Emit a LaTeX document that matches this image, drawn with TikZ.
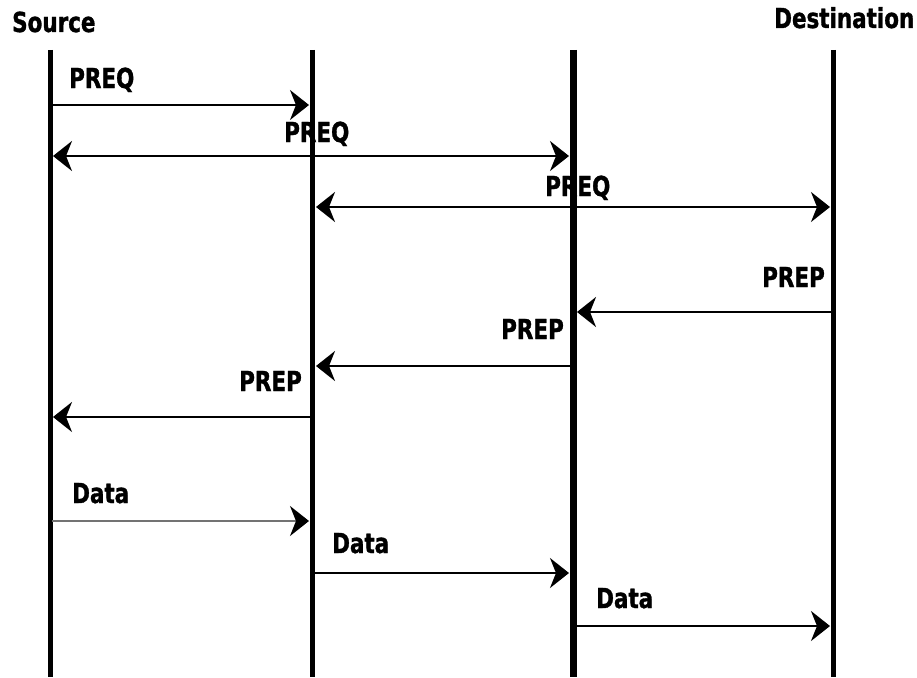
\documentclass[tikz,border=0pt]{standalone}
\usepackage{fontspec}
\newfontfamily\lblfont{DejaVu Sans Bold}[FakeStretch=0.78,FakeBold=1.2]
\usetikzlibrary{arrows.meta}
\begin{document}
\begin{tikzpicture}[x=1pt,y=-1pt,
  life/.style={line width=5pt},
  lifethick/.style={line width=7pt},
  tipstyle/.tip={Stealth[length=19pt,width=30pt,inset=6pt,black]},
  msg/.style={line width=2.2pt,-tipstyle,shorten >=1pt},
  msgboth/.style={line width=2.2pt,tipstyle-tipstyle,shorten >=1pt,shorten <=1pt},
  lbl/.style={font=\lblfont\fontsize{27.5}{30}\selectfont,inner sep=0pt,anchor=base west}]
\useasboundingbox (0,0) rectangle (917,677);
% lifelines
\coordinate (L1t) at (50,50);  \coordinate (L1b) at (50,677);
\coordinate (L2t) at (312.5,50); \coordinate (L2b) at (312.5,677);
\coordinate (L3t) at (573,50); \coordinate (L3b) at (573,677);
\coordinate (L4t) at (833,50); \coordinate (L4b) at (833,677);
\draw[life] (L1t) -- (L1b);
\draw[life] (L2t) -- (L2b);
\draw[lifethick] (L3t) -- (L3b);
\draw[life] (L4t) -- (L4b);
% titles
\node[lbl] (src) at (12,32) {Source};
\node[lbl] (dst) at (774,28) {Destination};
% message endpoints
\coordinate (a1) at (52,105);  \coordinate (b1) at (310,105);
\coordinate (a2) at (52,156);  \coordinate (b2) at (570,156);
\coordinate (a3) at (315,207); \coordinate (b3) at (831,207);
\coordinate (a4) at (831,312); \coordinate (b4) at (576,312);
\coordinate (a5) at (570,366); \coordinate (b5) at (315,366);
\coordinate (a6) at (310,417); \coordinate (b6) at (52,417);
\coordinate (a7) at (52,521);  \coordinate (b7) at (310,521);
\coordinate (a8) at (315,573); \coordinate (b8) at (570,573);
\coordinate (a9) at (576,626); \coordinate (b9) at (831,626);
% messages
\draw[msg] (a1) -- (b1);
\draw[msgboth] (a2) -- (b2);
\draw[msgboth] (a3) -- (b3);
\draw[msg] (a4) -- (b4);
\draw[msg] (a5) -- (b5);
\draw[msg] (a6) -- (b6);
\draw[msg,draw=black!55] (a7) -- (b7);
\draw[msg] (a8) -- (b8);
\draw[msg] (a9) -- (b9);
% labels
\node[lbl] (m1) at (69,88) {PREQ};
\node[lbl] (m2) at (284,142) {PREQ};
\node[lbl] (m3) at (545,196) {PREQ};
\node[lbl] (m4) at (762,287) {PREP};
\node[lbl] (m5) at (501,339) {PREP};
\node[lbl] (m6) at (239,391) {PREP};
\node[lbl] (m7) at (72,503) {Data};
\node[lbl] (m8) at (332,553) {Data};
\node[lbl] (m9) at (596,608) {Data};
\end{tikzpicture}
\end{document}
